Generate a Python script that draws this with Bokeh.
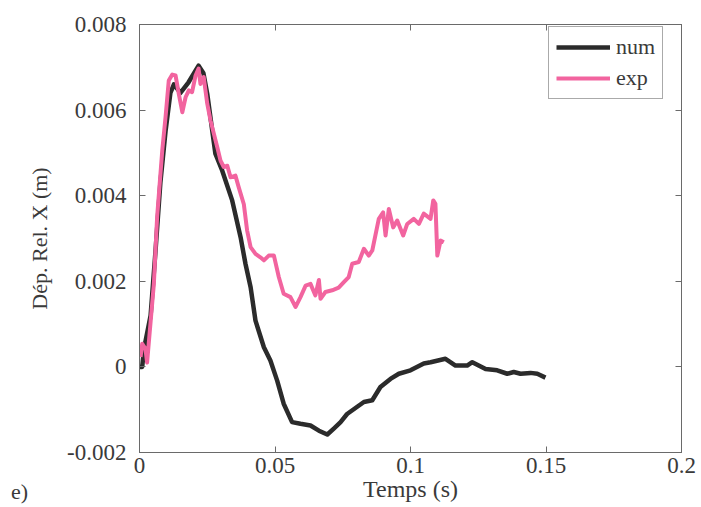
from bokeh.plotting import figure
from bokeh.models import LinearAxis, Legend, LegendItem, FixedTicker, Div
from bokeh.layouts import column
from bokeh.embed import file_html
from bokeh.resources import INLINE

# numerical result
num_t = [0.0000, 0.0010, 0.0016, 0.0041, 0.0059, 0.0077, 0.0096, 0.0114, 0.0127, 0.0151,
         0.0181, 0.0218, 0.0236, 0.0250, 0.0280, 0.0305, 0.0342, 0.0373, 0.0391, 0.0410,
         0.0428, 0.0459, 0.0483, 0.0508, 0.0532, 0.0563, 0.0594, 0.0631, 0.0662, 0.0693,
         0.0717, 0.0742, 0.0766, 0.0828, 0.0859, 0.0889, 0.0926, 0.0957, 0.1000, 0.1049,
         0.1074, 0.1129, 0.1166, 0.1209, 0.1228, 0.1277, 0.1320, 0.1357, 0.1381, 0.1406,
         0.1443, 0.1468, 0.1498]
num_x = [0.00000, 0.00000, 0.00040, 0.00120, 0.00270, 0.00430, 0.00550, 0.00640, 0.00660, 0.00640,
         0.00665, 0.00704, 0.00686, 0.00638, 0.00498, 0.00459, 0.00389, 0.00303, 0.00241, 0.00186,
         0.00108, 0.00046, 0.00015, -0.00032, -0.00086, -0.00129, -0.00133, -0.00137, -0.00149, -0.00158,
         -0.00144, -0.00129, -0.00110, -0.00082, -0.00078, -0.00047, -0.00028, -0.00016, -0.00008, 0.00008,
         0.00011, 0.00019, 0.00003, 0.00003, 0.00011, -0.00005, -0.00008, -0.00016, -0.00012, -0.00016,
         -0.00014, -0.00016, -0.00025]

# experimental result
exp_t = [0.0004, 0.0010, 0.0022, 0.0028, 0.0053, 0.0065, 0.0084, 0.0096, 0.0108, 0.0121,
         0.0133, 0.0145, 0.0158, 0.0170, 0.0182, 0.0194, 0.0207, 0.0218, 0.0225, 0.0237,
         0.0250, 0.0262, 0.0287, 0.0299, 0.0311, 0.0324, 0.0336, 0.0354, 0.0366, 0.0385,
         0.0397, 0.0410, 0.0428, 0.0446, 0.0459, 0.0477, 0.0496, 0.0514, 0.0532, 0.0557,
         0.0576, 0.0594, 0.0613, 0.0631, 0.0649, 0.0662, 0.0668, 0.0686, 0.0711, 0.0735,
         0.0754, 0.0772, 0.0785, 0.0809, 0.0828, 0.0846, 0.0859, 0.0883, 0.0899, 0.0908,
         0.0920, 0.0936, 0.0951, 0.0973, 0.0988, 0.1012, 0.1031, 0.1049, 0.1074, 0.1084,
         0.1092, 0.1099, 0.1111, 0.1123]
exp_x = [0.00023, 0.00054, 0.00042, 0.00010, 0.00194, 0.00350, 0.00506, 0.00583, 0.00669, 0.00683,
         0.00681, 0.00638, 0.00595, 0.00630, 0.00646, 0.00642, 0.00681, 0.00697, 0.00661, 0.00677,
         0.00615, 0.00576, 0.00513, 0.00482, 0.00467, 0.00470, 0.00443, 0.00447, 0.00420, 0.00380,
         0.00319, 0.00280, 0.00264, 0.00256, 0.00249, 0.00260, 0.00260, 0.00210, 0.00171, 0.00163,
         0.00140, 0.00163, 0.00190, 0.00194, 0.00167, 0.00203, 0.00159, 0.00175, 0.00179, 0.00185,
         0.00198, 0.00210, 0.00241, 0.00245, 0.00276, 0.00260, 0.00272, 0.00346, 0.00361, 0.00307,
         0.00369, 0.00326, 0.00342, 0.00307, 0.00334, 0.00346, 0.00334, 0.00358, 0.00346, 0.00389,
         0.00381, 0.00260, 0.00295, 0.00291]

x_ticks = [0, 0.05, 0.1, 0.15, 0.2]
y_ticks = [-0.002, 0, 0.002, 0.004, 0.006, 0.008]
x_tick_labels = {0: "0", 0.05: "0.05", 0.1: "0.1", 0.15: "0.15", 0.2: "0.2"}
y_tick_labels = {-0.002: "-0.002", 0: "0", 0.002: "0.002", 0.004: "0.004", 0.006: "0.006", 0.008: "0.008"}

FONT = "Liberation Serif"
AX = "#6a6a6a"
TXT = "#3a3a3a"

p = figure(width=700, height=506, x_range=(0, 0.2), y_range=(-0.002, 0.008),
           output_backend="svg", toolbar_location=None,
           min_border_left=139, min_border_right=19, min_border_top=24, min_border_bottom=54)
p.grid.visible = False
p.outline_line_color = AX
p.outline_line_width = 1
p.background_fill_color = "white"
p.border_fill_color = "white"

l_num = p.line(num_t, num_x, line_color="#2b2b2b", line_width=4.5, line_join="round")
l_exp = p.line(exp_t, exp_x, line_color="#f2649f", line_width=4, line_join="round")

for ax in (p.xaxis[0], p.yaxis[0]):
    ax.axis_line_color = AX
    ax.major_tick_line_color = AX
    ax.major_tick_in = 6
    ax.major_tick_out = 0
    ax.minor_tick_line_color = None
    ax.major_label_text_font = FONT
    ax.major_label_text_font_size = "23px"
    ax.major_label_text_color = TXT
    ax.axis_label_text_font = FONT
    ax.axis_label_text_font_style = "normal"
    ax.axis_label_text_color = TXT

p.xaxis.ticker = FixedTicker(ticks=x_ticks)
p.yaxis.ticker = FixedTicker(ticks=y_ticks)
p.xaxis.major_label_overrides = x_tick_labels
p.yaxis.major_label_overrides = y_tick_labels
p.xaxis.axis_label = "Temps (s)"
p.yaxis.axis_label = "Dép. Rel. X (m)"
p.xaxis.axis_label_text_font_size = "24px"
p.yaxis.axis_label_text_font_size = "22px"
p.xaxis.major_label_standoff = 5
p.xaxis.axis_label_standoff = 0
p.yaxis.major_label_standoff = 13
p.yaxis.axis_label_standoff = 12

# mirrored ticks on top and right (labels not drawn)
top = LinearAxis(ticker=FixedTicker(ticks=x_ticks), major_tick_in=6, major_tick_out=0,
                 major_label_text_font_size="2px", major_label_text_color=None,
                 major_label_standoff=0,
                 axis_line_color=AX, major_tick_line_color=AX, minor_tick_line_color=None)
right = LinearAxis(ticker=FixedTicker(ticks=y_ticks), major_tick_in=6, major_tick_out=0,
                   major_label_text_font_size="2px", major_label_text_color=None,
                   major_label_standoff=0,
                   axis_line_color=AX, major_tick_line_color=AX, minor_tick_line_color=None)
p.add_layout(top, "above")
p.add_layout(right, "right")

legend = Legend(items=[LegendItem(label="num", renderers=[l_num]),
                       LegendItem(label="exp", renderers=[l_exp])],
                location=(409, 353))
legend.label_text_font = FONT
legend.label_text_font_size = "22px"
legend.label_text_color = TXT
legend.glyph_width = 54
legend.glyph_height = 22
legend.label_standoff = 6
legend.spacing = 5
legend.padding = 7
legend.border_line_color = "#555555"
legend.border_line_width = 1
legend.background_fill_color = "white"
p.add_layout(legend)

# panel letter at the bottom-left corner
tag = Div(text="e)", styles={"position": "absolute", "left": "6px", "top": "475px",
                             "font-family": FONT, "font-size": "22px", "color": TXT,
                             "line-height": "24px"})

layout = column(p, tag)
open("out.html", "w").write(file_html(layout, INLINE))
